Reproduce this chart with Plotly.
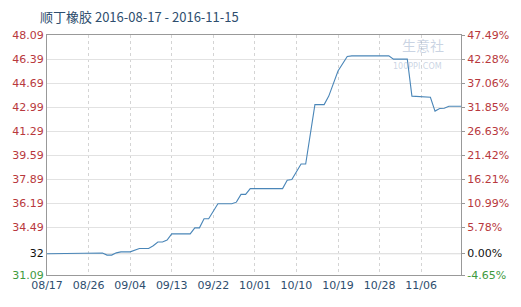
import plotly.graph_objects as go

dates = ["2016-08-17","2016-08-25","2016-08-26","2016-08-29","2016-08-30","2016-08-31",
         "2016-09-01","2016-09-02","2016-09-04","2016-09-05","2016-09-06","2016-09-08",
         "2016-09-09","2016-09-10","2016-09-11","2016-09-12","2016-09-13","2016-09-17",
         "2016-09-18","2016-09-19","2016-09-20","2016-09-21","2016-09-23","2016-09-26",
         "2016-09-27","2016-09-28","2016-09-29","2016-09-30","2016-10-07","2016-10-08",
         "2016-10-09","2016-10-11","2016-10-12","2016-10-14","2016-10-16","2016-10-17",
         "2016-10-19","2016-10-21","2016-10-22","2016-10-30","2016-10-31","2016-11-03",
         "2016-11-04","2016-11-08","2016-11-09","2016-11-10","2016-11-11","2016-11-12",
         "2016-11-15"]
prices = [32.6,32.6,32.65,32.65,32.5,32.5,
          32.66,32.73,32.73,32.85,32.97,32.97,
          33.16,33.43,33.43,33.57,34.0,34.0,
          34.43,34.43,35.07,35.07,36.14,36.14,
          36.25,36.8,36.8,37.21,37.21,37.8,
          37.85,38.95,38.95,43.16,43.16,43.76,
          45.54,46.57,46.61,46.61,46.38,46.38,
          43.76,43.68,42.7,42.88,42.9,43.04,
          43.04]

left_ticks = [48.09,46.39,44.69,42.99,41.29,39.59,37.89,36.19,34.49,32.606,31.09]
left_labels = ["48.09","46.39","44.69","42.99","41.29","39.59","37.89","36.19","34.49","32","31.09"]
right_labels = ["47.49%","42.28%","37.06%","31.85%","26.63%","21.42%","16.21%","10.99%","5.78%","0.00%","-4.65%"]
x_ticks = ["2016-08-17","2016-08-26","2016-09-04","2016-09-13","2016-09-22","2016-10-01",
           "2016-10-10","2016-10-19","2016-10-28","2016-11-06"]
x_labels = ["08/17","08/26","09/04","09/13","09/22","10/01","10/10","10/19","10/28","11/06"]

RED = "#b8383d"
GREEN = "#3e9a3e"
BLACK = "#111111"

def colored(labels):
    out = []
    n = len(labels)
    for i, t in enumerate(labels):
        c = BLACK if i == n - 2 else (GREEN if i == n - 1 else RED)
        out.append(f'<span style="color:{c}">{t}</span>')
    return out

fig = go.Figure()
fig.add_trace(go.Scatter(x=dates, y=prices, mode="lines",
                         line=dict(color="#4a86b8", width=1.1), showlegend=False,
                         hoverinfo="skip"))
fig.add_trace(go.Scatter(x=dates, y=prices, mode="lines", yaxis="y2",
                         line=dict(color="rgba(0,0,0,0)", width=0), showlegend=False,
                         hoverinfo="skip"))

fig.add_shape(type="line", xref="paper", x0=0, x1=1, yref="y", y0=left_ticks[-2], y1=left_ticks[-2],
              line=dict(color="#999999", width=1), layer="below")

fig.add_annotation(text="生意社", x=430, y=45, xref="paper", yref="paper", showarrow=False,
                   xanchor="center", yanchor="middle", borderpad=0)
fig.add_annotation(text="100PPI.COM", x=425, y=66, xref="paper", yref="paper", showarrow=False,
                   xanchor="center", yanchor="middle", borderpad=0)
# convert pixel positions of the watermark to paper coordinates
for ann, size, fam in zip(fig.layout.annotations, [14, 8], ["Noto Sans CJK SC", "DejaVu Sans"]):
    px, py = ann.x, ann.y
    ann.x = (px - 39) / (521 - 39 - 51)
    ann.y = (275 - py) / (275 - 35)
    ann.font = dict(family=fam, size=size, color="rgba(150,170,200,0.5)")

fig.update_layout(
    width=521, height=307,
    margin=dict(l=39, r=51, t=35, b=32),
    paper_bgcolor="white", plot_bgcolor="white",
    title=dict(text="顺丁橡胶 2016-08-17 - 2016-11-15", x=40/521, xanchor="left",
               y=1 - 17/307, yanchor="middle",
               font=dict(family="Noto Sans CJK SC", size=13, color="#2e4e6e")),
    xaxis=dict(type="date", range=["2016-08-17", "2016-11-14 15:00"],
               tickvals=x_ticks, ticktext=x_labels,
               showgrid=True, gridcolor="#d4d4d4", griddash="dot", gridwidth=1,
               showline=True, linecolor="#999999", linewidth=1, mirror=True,
               ticks="", tickfont=dict(family="DejaVu Sans", size=11, color="#2e4e6e"),
               zeroline=False),
    yaxis=dict(range=[31.09, 48.09], tickvals=left_ticks, ticktext=colored(left_labels),
               showgrid=True, gridcolor="#e2e2e2", gridwidth=1,
               showline=True, linecolor="#999999", linewidth=1, mirror=True,
               ticks="", tickfont=dict(family="DejaVu Sans", size=11),
               zeroline=False),
    yaxis2=dict(range=[31.09, 48.09], overlaying="y", side="right",
                tickvals=left_ticks, ticktext=colored(right_labels),
                showgrid=False, showline=True, linecolor="#999999", linewidth=1,
                ticks="outside", ticklen=3, tickcolor="#999999",
                tickfont=dict(family="DejaVu Sans", size=11), zeroline=False),
)

fig.write_html("out.html")
